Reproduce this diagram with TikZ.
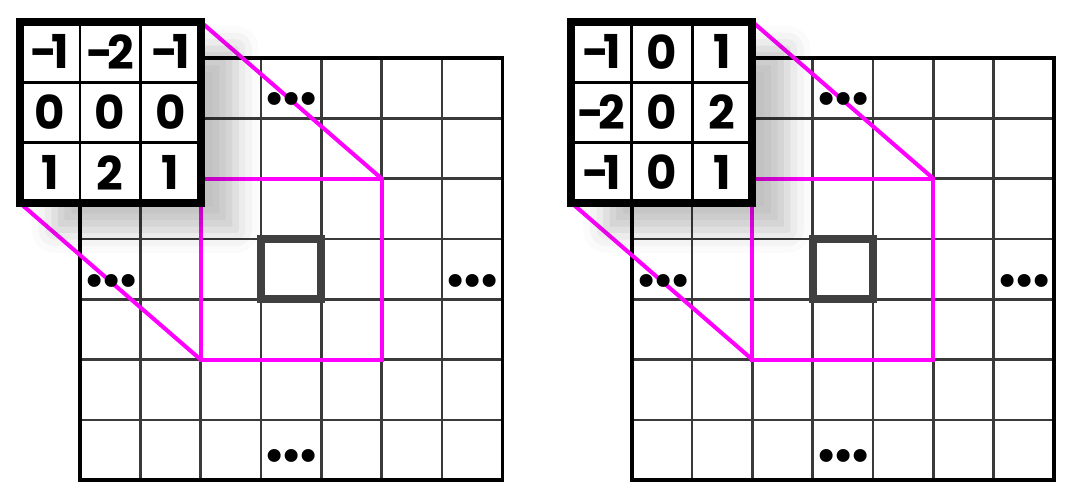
\documentclass[tikz,border=0pt]{standalone}
\usepackage{fontspec}
\usetikzlibrary{shadows.blur}
\newfontfamily\kernfont{Poppins}[LetterSpace=-13]
\newfontfamily\dotfont{DejaVu Sans}[LetterSpace=-21]
\definecolor{gridgray}{HTML}{3A3A3A}
\definecolor{centergray}{HTML}{404040}
\definecolor{winmag}{HTML}{FF00FF}

\begin{document}
\begin{tikzpicture}[
    gridline/.style={draw=gridgray, line width=1.3pt},
    border/.style={draw=black, line width=1.7pt},
    window/.style={draw=winmag, line width=1.9pt},
    centerbox/.style={draw=centergray, line width=3.8pt},
    kernel/.style={draw=black, fill=white, line width=3.8pt, minimum size=3cm,
        inner sep=0pt, outer sep=0pt,
        blur shadow={shadow xshift=0.58cm, shadow yshift=-0.45cm,
            shadow blur radius=0.38cm, shadow opacity=24}},
    kline/.style={draw=black, line width=1.4pt},
    num/.style={font=\kernfont\bfseries\fontsize{22}{22}\selectfont, inner sep=0pt},
    dots/.style={font=\dotfont\fontsize{21}{21}\selectfont, inner sep=0pt}]
    \useasboundingbox (-1.326,-0.326) rectangle (16.476,7.961);
    \foreach \pn/\dx/\kv in {A/0/{-1,-2,-1,0,0,0,1,2,1}, B/9.145/{-1,0,1,-2,0,2,-1,0,1}} {
    \begin{scope}[xshift=\dx cm]
        \draw[gridline] (0,0) grid (7,7);
        \draw[border] (0,0) rectangle (7,7);
        \draw[centerbox] (3,3) rectangle (4,4);
        \coordinate (\pn-wsw) at (2,2); \coordinate (\pn-wne) at (5,5);
        \begin{scope}[shift={(-1,4.6)}]
            \coordinate (\pn-ksw) at (0,0); \coordinate (\pn-kne) at (3,3);
        \end{scope}
        \draw[window] (\pn-wsw) rectangle (\pn-wne);
        \draw[window] (\pn-kne) -- (\pn-wne);
        \draw[window] (\pn-ksw) -- (\pn-wsw);
        % dots
        \node[dots] (\pn-dt) at (3.51,6.23) {•••};
        \node[dots] (\pn-dl) at (0.53,3.22) {•••};
        \node[dots] (\pn-dr) at (6.51,3.22) {•••};
        \node[dots] (\pn-db) at (3.51,0.32) {•••};
        \begin{scope}[shift={(-1,4.6)}]
            \node[kernel] (\pn-k) at (1.5,1.5) {};
            \draw[kline] (0,0) grid (3,3);
            \foreach \v [count=\i from 0] in \kv
                \node[num] (\pn-n\i) at ({mod(\i,3)+0.5},{2.5-floor(\i/3)}) {\v};
        \end{scope}
    \end{scope}
    }
\end{tikzpicture}
\end{document}
